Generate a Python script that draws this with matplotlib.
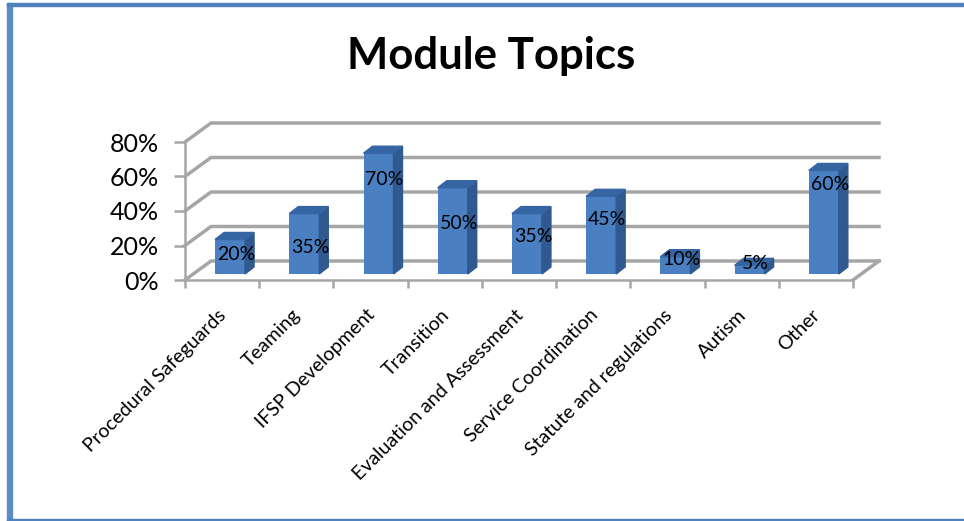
#!/usr/bin/env python3
"""Module Topics 3D風棒グラフ"""

import numpy as np
import matplotlib.pyplot as plt
from matplotlib.patches import Polygon, Rectangle

categories = ['Procedural Safeguards', 'Teaming', 'IFSP Development', 'Transition',
              'Evaluation and Assessment', 'Service Coordination',
              'Statute and regulations', 'Autism', 'Other']
values = [20, 35, 70, 50, 35, 45, 10, 5, 60]
# 値ラベルの高さ（手で置かれている）
label_heights = [15, 19, 58, 33, 25, 35, 12, 9.3, 55.6]
y_ticks = [0, 20, 40, 60, 80]

W, H = 964, 521
plt.rcParams['font.family'] = ['Lato', 'DejaVu Sans']

fig = plt.figure(figsize=(W / 100, H / 100), dpi=100)

# 枠線
blue = '#4f81bd'
fig.add_artist(Rectangle((7 / W, 0), 5 / W, 1 - 3 / H, color='#5b8cc6', transform=fig.transFigure))
fig.add_artist(Rectangle((7 / W, 1 - 6 / H), 1 - 7 / W, 3 / H, color=blue, transform=fig.transFigure))
fig.add_artist(Rectangle((7 / W, 0), 1 - 7 / W, 2 / H, color=blue, transform=fig.transFigure))

fig.text(491 / W, 1 - 56 / H, 'Module Topics', fontsize=31.5, fontweight='bold',
         ha='center', va='center', color='black')

# 手前の面を軸にする
left, right, bottom, top = 185, 853, 280, 142
ax = fig.add_axes([left / W, 1 - bottom / H, (right - left) / W, (bottom - top) / H])
ax.set_xlim(0, len(categories))
ax.set_ylim(0, 80)
ax.patch.set_visible(False)
for s in ['top', 'right']:
    ax.spines[s].set_visible(False)
for s in ['left', 'bottom']:
    ax.spines[s].set_color('#a6a6a6')
    ax.spines[s].set_linewidth(1.8)

# 奥行き（データ単位）
unit_x = (right - left) / len(categories)
unit_y = (bottom - top) / 80
depth_x = 26 / unit_x
depth_y = 19 / unit_y

# 壁のグリッド
grid = '#a6a6a6'
for v in y_ticks:
    ax.plot([0, depth_x, len(categories) + depth_x], [v, v + depth_y, v + depth_y],
            color=grid, lw=2.5, clip_on=False, zorder=1, solid_joinstyle='miter')
ax.plot([len(categories), len(categories) + depth_x], [0, depth_y],
        color=grid, lw=2.5, clip_on=False, zorder=1)

# 棒
bar_w = 0.404
bar_off = 0.405
base = 3.5
bar_dx = 9 / unit_x
bar_dy = 7 / unit_y
x = np.arange(len(categories)) + bar_off
ax.bar(x, values, width=bar_w, bottom=base, align='edge', color='#4a7fc1', zorder=3)
for xi, v in zip(x, values):
    t = base + v
    ax.add_patch(Polygon([[xi + bar_w, base], [xi + bar_w + bar_dx, base + bar_dy],
                          [xi + bar_w + bar_dx, t + bar_dy], [xi + bar_w, t]],
                         color='#30598f', clip_on=False, zorder=3))
    ax.add_patch(Polygon([[xi, t], [xi + bar_dx, t + bar_dy],
                          [xi + bar_w + bar_dx, t + bar_dy], [xi + bar_w, t]],
                         color='#3565a3', clip_on=False, zorder=3))

for xi, v, h in zip(x, values, label_heights):
    ax.text(xi + bar_w / 2 + 6 / unit_x, h, f'{v}%', ha='center', va='center',
            fontsize=14, color='black', zorder=5)

# 目盛り
ax.set_yticks(y_ticks)
ax.set_yticklabels([f'{v}%' for v in y_ticks], fontsize=18)
ax.tick_params(axis='y', length=8, width=1.8, color=grid, pad=11)
ax.set_xticks(np.arange(len(categories) + 1))
ax.set_xticklabels([])
ax.tick_params(axis='x', which='major', length=6, width=1.8, color=grid)
ax.set_xticks(np.arange(len(categories)) + 0.44, minor=True)
ax.set_xticklabels(categories, minor=True, rotation=45, ha='right', va='top',
                   rotation_mode='anchor', fontsize=14)
ax.tick_params(axis='x', which='minor', length=0, pad=19)

fig.savefig('out.png', dpi=100)
